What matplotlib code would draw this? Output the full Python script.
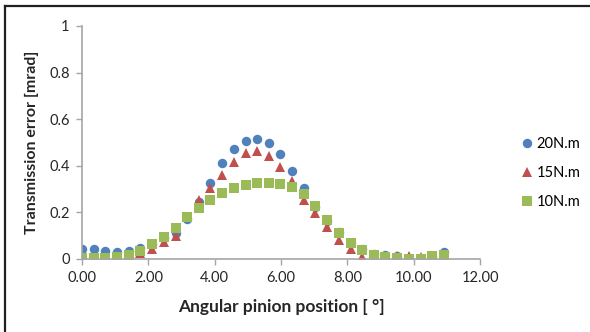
import matplotlib.pyplot as plt
import matplotlib.ticker as ticker
from matplotlib.lines import Line2D

plt.rcParams["font.family"] = ["Lato", "DejaVu Sans"]

# angular pinion position [deg]
pos = [0.00, 0.35, 0.70, 1.06, 1.41, 1.76, 2.11, 2.46, 2.82, 3.17, 3.52,
       3.87, 4.22, 4.58, 4.93, 5.28, 5.63, 5.98, 6.34, 6.69, 7.04, 7.39,
       7.74, 8.10, 8.45, 8.80, 9.15, 9.50, 9.86, 10.21, 10.56, 10.91]

te_20 = [0.043, 0.043, 0.036, 0.029, 0.036, 0.046, 0.064, 0.089, 0.110, 0.170, 0.246,
         0.325, 0.410, 0.470, 0.508, 0.515, 0.500, 0.450, 0.378, 0.305, 0.225, 0.165,
         0.117, 0.070, 0.045, 0.022, 0.016, 0.012, 0.006, 0.002, 0.012, 0.030]
te_15 = [0.004, 0.004, 0.004, 0.005, 0.010, 0.025, 0.045, 0.075, 0.100, 0.180, 0.253,
         0.303, 0.360, 0.418, 0.456, 0.463, 0.442, 0.396, 0.335, 0.252, 0.196, 0.139,
         0.080, 0.042, 0.010, 0.004, 0.006, 0.012, 0.012, 0.010, 0.006, 0.008]
te_10 = [0.003, 0.003, 0.003, 0.010, 0.017, 0.036, 0.064, 0.096, 0.134, 0.179, 0.217,
         0.253, 0.282, 0.303, 0.318, 0.325, 0.325, 0.320, 0.310, 0.278, 0.227, 0.168,
         0.110, 0.067, 0.040, 0.017, 0.010, 0.003, 0.000, 0.000, 0.013, 0.017]

series = [("20N.m", te_20, "o", "#4F81BD"),
          ("15N.m", te_15, "^", "#C0504D"),
          ("10N.m", te_10, "s", "#9BBB59")]

fig = plt.figure(figsize=(5.9, 3.32), dpi=100)
ax = fig.add_axes([82 / 590, 1 - 259 / 332, 398 / 590, 233 / 332])

for name, vals, mk, col in series:
    ax.plot(pos, vals, linestyle="none", marker=mk, color=col,
            markersize=6.8, markeredgewidth=0, label=name)

ax.set_xlim(0, 12)
ax.set_ylim(0, 1)
ax.xaxis.set_major_locator(ticker.MultipleLocator(2))
ax.xaxis.set_major_formatter(ticker.FormatStrFormatter("%.2f"))
ax.yaxis.set_major_locator(ticker.MultipleLocator(0.2))
ax.yaxis.set_major_formatter(ticker.FuncFormatter(lambda v, p: "%g" % round(v, 1)))

for s in ["top", "right"]:
    ax.spines[s].set_visible(False)
for s in ["left", "bottom"]:
    ax.spines[s].set_color("#A6A6A6")
    ax.spines[s].set_linewidth(1.2)
ax.tick_params(colors="#A6A6A6", labelcolor="#262626", labelsize=10.5, length=4, width=1)
ax.tick_params(axis="x", pad=5)
ax.tick_params(axis="y", pad=5)

ax.set_xlabel("Angular pinion position [ °]", fontsize=12.5, fontweight="bold",
              color="#262626", labelpad=10)
ax.set_ylabel("Transmission error [mrad]", fontsize=11.5, fontweight="bold",
              color="#262626", labelpad=7)

handles = [Line2D([], [], linestyle="none", marker=mk, color=col, markersize=6.8,
                  markeredgewidth=0) for _, _, mk, col in series]
fig.legend(handles, [s[0] for s in series], loc="center left",
           bbox_to_anchor=(508 / 590, 1 - 173 / 332), frameon=False,
           fontsize=10.5, handlelength=0.8, handletextpad=0.25, labelspacing=1.05)

# black frame on top and left
fig.add_artist(Line2D([5 / 590, 5 / 590], [0, 1 - 6 / 332], color="#231F20", lw=1.6))
fig.add_artist(Line2D([5 / 590, 1], [1 - 6 / 332, 1 - 6 / 332], color="#231F20", lw=1.6))

fig.savefig("out.png", dpi=100)
